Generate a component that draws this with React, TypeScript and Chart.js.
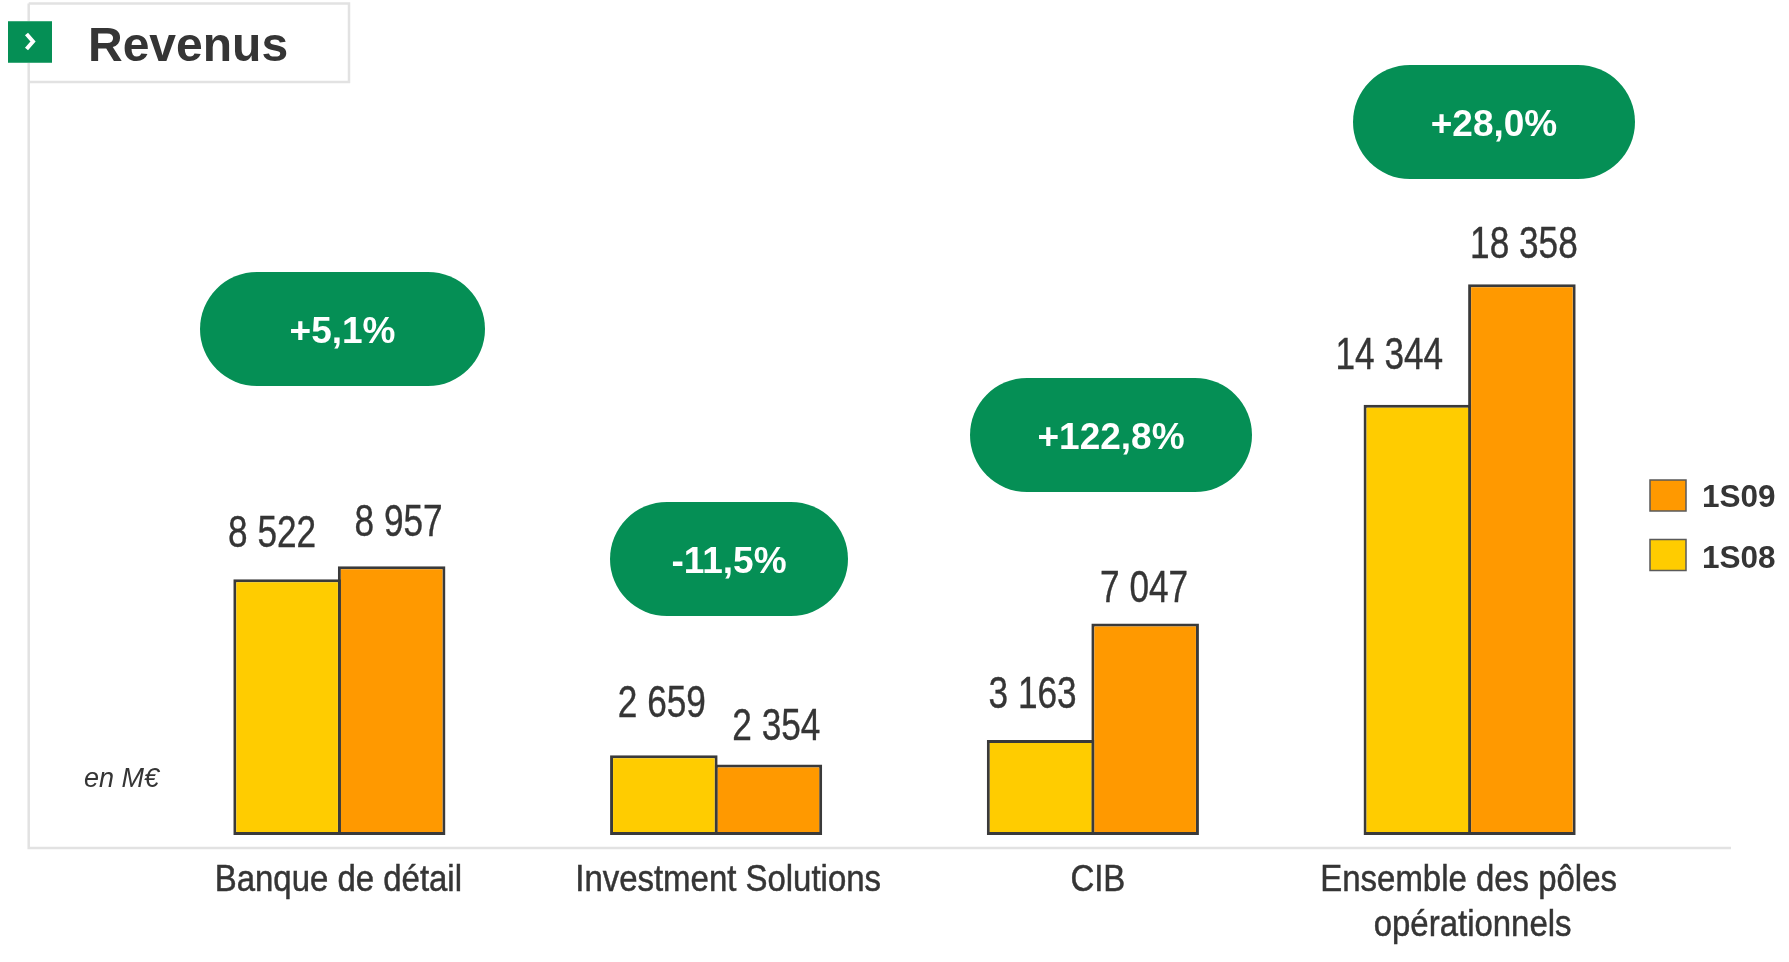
import React, { useEffect, useRef } from "react";
import { Chart, registerables } from "chart.js";

Chart.register(...registerables);

const categories = [["Banque de détail"], ["Investment Solutions"], ["CIB"], ["Ensemble des pôles", "opérationnels"]];
const values1S08 = [8522, 2659, 3163, 14344];
const values1S09 = [8957, 2354, 7047, 18358];
const labels1S08 = ["8 522", "2 659", "3 163", "14 344"];
const labels1S09 = ["8 957", "2 354", "7 047", "18 358"];
const growthLabels = ["+5,1%", "-11,5%", "+122,8%", "+28,0%"];
const legendItems = ["1S09", "1S08"];

const YELLOW = "#FFCC00";
const ORANGE = "#FF9900";
const GREEN = "#058F55";
const INK = "#353535";
const FRAME = "#E2E2E2";
const SANS = '"Liberation Sans", Arial, sans-serif';

// layout only
const pillBoxes = [
  { x: 200, y: 272, w: 285, h: 114 },
  { x: 610, y: 502, w: 238, h: 114 },
  { x: 970, y: 378, w: 282, h: 114 },
  { x: 1353, y: 65, w: 282, h: 114 },
];
const offs1S08 = [{ dx: -15, gap: 32 }, { dx: -2, gap: 38 }, { dx: -8, gap: 32 }, { dx: -28, gap: 36 }];
const offs1S09 = [{ dx: 7, gap: 30 }, { dx: 8, gap: 24 }, { dx: -1, gap: 22 }, { dx: 2, gap: 26 }];
const catOffsets = [-1, 12, 5, -1];
const secondLineShift = 4;
const legendTextShift = [18, 20];

function narrowText(c: any, t: string, x: number, y: number, sx: number, stroke = 0) {
  c.save();
  c.translate(x, y);
  c.scale(sx, 1);
  c.fillText(t, 0, 0);
  if (stroke > 0) {
    c.strokeStyle = c.fillStyle;
    c.lineWidth = stroke;
    c.strokeText(t, 0, 0);
  }
  c.restore();
}

const decorations = {
  id: "decorations",
  beforeDatasetsDraw(chart: any) {
    const c = chart.ctx;
    c.save();
    c.strokeStyle = FRAME;
    c.lineWidth = 2.5;
    c.beginPath();
    c.moveTo(28.7, 3.5);
    c.lineTo(28.7, 848);
    c.lineTo(1731, 848);
    c.moveTo(28.7, 3.5);
    c.lineTo(349, 3.5);
    c.lineTo(349, 82);
    c.lineTo(28.7, 82);
    c.stroke();
    c.fillStyle = GREEN;
    c.fillRect(8, 21, 44, 42);
    c.fillStyle = "#3FAA7C";
    c.fillRect(8, 21, 44, 1);
    c.fillRect(8, 62, 44, 1);
    c.strokeStyle = "#FFFFFF";
    c.lineWidth = 4;
    c.beginPath();
    c.moveTo(26.5, 34);
    c.lineTo(33, 41.5);
    c.lineTo(26.5, 49);
    c.stroke();
    c.restore();
  },
  afterDatasetsDraw(chart: any) {
    const c = chart.ctx;
    c.save();
    c.textAlign = "left";
    c.textBaseline = "alphabetic";
    c.fillStyle = INK;
    c.font = `bold 48px ${SANS}`;
    c.fillText("Revenus", 88, 61);
    c.font = `italic 27px ${SANS}`;
    c.fillText("en M€", 84, 787);

    // value labels
    c.textAlign = "center";
    c.font = `44px ${SANS}`;
    const m0 = chart.getDatasetMeta(0).data;
    const m1 = chart.getDatasetMeta(1).data;
    labels1S08.forEach((t, i) => narrowText(c, t, m0[i].x + offs1S08[i].dx, m0[i].y - offs1S08[i].gap, 0.8, 0.4));
    labels1S09.forEach((t, i) => narrowText(c, t, m1[i].x + offs1S09[i].dx, m1[i].y - offs1S09[i].gap, 0.8, 0.4));

    // category labels
    c.font = `36px ${SANS}`;
    c.textBaseline = "middle";
    const xs = chart.scales.x;
    categories.forEach((lines, i) => {
      lines.forEach((l, j) =>
        narrowText(c, l, xs.getPixelForTick(i) + catOffsets[i] + j * secondLineShift, 881 + j * 45, 0.915, 0.5)
      );
    });

    // growth pills
    pillBoxes.forEach((p, i) => {
      c.fillStyle = GREEN;
      c.beginPath();
      c.roundRect(p.x, p.y, p.w, p.h, p.h / 2);
      c.fill();
      c.fillStyle = "#FFFFFF";
      c.font = `bold 37px ${SANS}`;
      c.fillText(growthLabels[i], p.x + p.w / 2, p.y + p.h / 2 + 4);
    });

    // legend
    const colours = [ORANGE, YELLOW];
    legendItems.forEach((t, i) => {
      const y = 480 + i * 59.5;
      c.fillStyle = colours[i];
      c.strokeStyle = "#5A5A5A";
      c.lineWidth = 1.5;
      c.fillRect(1650, y, 36, 31);
      c.strokeRect(1650, y, 36, 31);
      c.fillStyle = INK;
      c.textAlign = "left";
      c.font = `bold 31.5px ${SANS}`;
      c.fillText(t, 1702, y + legendTextShift[i]);
    });
    c.restore();
  },
};

export default function App() {
  const ref = useRef<HTMLCanvasElement>(null);
  useEffect(() => {
    const chart = new Chart(ref.current!, {
      type: "bar",
      data: {
        labels: categories.map((l) => l.join(" ")),
        datasets: [
          { label: "1S08", data: values1S08, backgroundColor: YELLOW, borderColor: "#3A3A3A", borderWidth: 3, borderSkipped: false, barPercentage: 1.029, categoryPercentage: 0.555 },
          { label: "1S09", data: values1S09, backgroundColor: ORANGE, borderColor: "#3A3A3A", borderWidth: 3, borderSkipped: false, barPercentage: 1.029, categoryPercentage: 0.555 },
        ],
      },
      options: {
        animation: false,
        responsive: false,
        layout: { padding: { left: 151, right: 131, top: 10, bottom: 127 } },
        plugins: { legend: { display: false }, tooltip: { enabled: false } },
        scales: {
          x: { display: false, grid: { display: false } },
          y: { display: false, min: 0, max: 27500, grid: { display: false } },
        },
      },
      plugins: [decorations],
    } as any);
    return () => chart.destroy();
  }, []);
  return (
    <div style={{ position: "fixed", left: 0, top: 0, width: 1789, height: 962, background: "#fff" }}>
      <canvas ref={ref} width={1789} height={962} style={{ display: "block", width: 1789, height: 962 }} />
    </div>
  );
}
